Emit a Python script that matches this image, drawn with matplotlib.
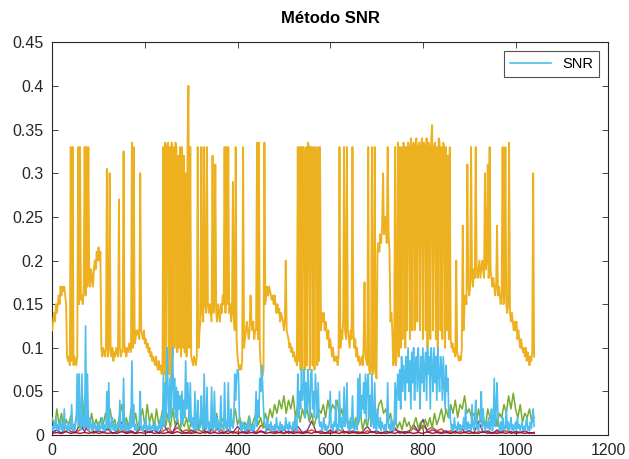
import numpy as np
import matplotlib
matplotlib.use("Agg")
import matplotlib.pyplot as plt

plt.rcParams['font.family'] = ['Liberation Sans', 'DejaVu Sans']

# --- data ---
step_yc = 2       # sample spacing of the yellow & cyan series
step_green = 5    # sample spacing of the green series
step_small = 10   # sample spacing of the small series

yellow_vals = [
    0.12, 0.13, 0.14, 0.13, 0.15, 0.14, 0.15, 0.16, 0.15, 0.17,
    0.16, 0.17, 0.165, 0.17, 0.16, 0.15, 0.09, 0.085, 0.09, 0.08,
    0.33, 0.085, 0.33, 0.08, 0.09, 0.085, 0.08, 0.09, 0.33, 0.15,
    0.33, 0.155, 0.16, 0.15, 0.17, 0.33, 0.16, 0.33, 0.17, 0.33,
    0.18, 0.17, 0.19, 0.18, 0.17, 0.19, 0.20, 0.19, 0.21, 0.20,
    0.215, 0.20, 0.21, 0.10, 0.09, 0.10, 0.095, 0.09, 0.10, 0.305,
    0.09, 0.10, 0.30, 0.095, 0.09, 0.10, 0.085, 0.095, 0.09, 0.10,
    0.095, 0.09, 0.27, 0.10, 0.09, 0.095, 0.10, 0.325, 0.095, 0.10,
    0.09, 0.10, 0.095, 0.105, 0.10, 0.095, 0.335, 0.10, 0.33, 0.105,
    0.11, 0.12, 0.115, 0.12, 0.11, 0.30, 0.12, 0.115, 0.11, 0.12,
    0.105, 0.11, 0.10, 0.105, 0.095, 0.10, 0.09, 0.095, 0.085, 0.09,
    0.085, 0.08, 0.09, 0.08, 0.075, 0.085, 0.075, 0.08, 0.07, 0.075,
    0.33, 0.07, 0.335, 0.06, 0.33, 0.335, 0.07, 0.33, 0.065, 0.335,
    0.09, 0.33, 0.10, 0.335, 0.33, 0.095, 0.32, 0.10, 0.33, 0.09,
    0.33, 0.10, 0.32, 0.095, 0.30, 0.09, 0.33, 0.40, 0.10, 0.33,
    0.09, 0.085, 0.08, 0.09, 0.085, 0.08, 0.09, 0.33, 0.10, 0.12,
    0.13, 0.33, 0.14, 0.13, 0.33, 0.15, 0.14, 0.33, 0.15, 0.14,
    0.15, 0.14, 0.13, 0.32, 0.14, 0.15, 0.31, 0.14, 0.13, 0.15,
    0.14, 0.13, 0.15, 0.14, 0.16, 0.15, 0.33, 0.14, 0.33, 0.15,
    0.33, 0.14, 0.15, 0.13, 0.14, 0.29, 0.13, 0.12, 0.33, 0.11,
    0.09, 0.08, 0.075, 0.08, 0.075, 0.085, 0.33, 0.10, 0.11, 0.12,
    0.13, 0.12, 0.11, 0.12, 0.16, 0.13, 0.12, 0.13, 0.11, 0.12,
    0.12, 0.335, 0.11, 0.335, 0.10, 0.08, 0.07, 0.068, 0.075, 0.335,
    0.15, 0.16, 0.17, 0.16, 0.17, 0.165, 0.16, 0.155, 0.16, 0.15,
    0.16, 0.15, 0.14, 0.15, 0.14, 0.145, 0.13, 0.14, 0.135, 0.13,
    0.12, 0.13, 0.20, 0.12, 0.115, 0.11, 0.10, 0.105, 0.095, 0.10,
    0.09, 0.095, 0.085, 0.09, 0.08, 0.33, 0.085, 0.33, 0.075, 0.33,
    0.075, 0.33, 0.32, 0.075, 0.33, 0.08, 0.335, 0.33, 0.075, 0.33,
    0.33, 0.08, 0.33, 0.075, 0.33, 0.32, 0.08, 0.33, 0.085, 0.33,
    0.12, 0.14, 0.13, 0.14, 0.12, 0.13, 0.12, 0.11, 0.12, 0.10,
    0.11, 0.10, 0.09, 0.10, 0.085, 0.09, 0.085, 0.09, 0.08, 0.09,
    0.33, 0.10, 0.12, 0.11, 0.13, 0.33, 0.12, 0.11, 0.33, 0.12,
    0.11, 0.10, 0.12, 0.11, 0.33, 0.12, 0.10, 0.11, 0.09, 0.10,
    0.085, 0.09, 0.08, 0.085, 0.09, 0.08, 0.10, 0.175, 0.09, 0.085,
    0.08, 0.33, 0.075, 0.07, 0.075, 0.33, 0.07, 0.075, 0.33, 0.07,
    0.065, 0.21, 0.22, 0.21, 0.23, 0.22, 0.24, 0.30, 0.23, 0.25,
    0.24, 0.22, 0.33, 0.23, 0.21, 0.13, 0.14, 0.12, 0.08, 0.085,
    0.33, 0.08, 0.10, 0.335, 0.09, 0.33, 0.10, 0.33, 0.11, 0.335,
    0.33, 0.10, 0.33, 0.12, 0.335, 0.33, 0.11, 0.34, 0.12, 0.33,
    0.335, 0.12, 0.33, 0.34, 0.13, 0.33, 0.335, 0.12, 0.33, 0.34,
    0.11, 0.335, 0.33, 0.12, 0.34, 0.10, 0.335, 0.33, 0.11, 0.34,
    0.355, 0.12, 0.33, 0.335, 0.11, 0.33, 0.10, 0.34, 0.335, 0.12,
    0.33, 0.11, 0.335, 0.33, 0.10, 0.33, 0.12, 0.32, 0.11, 0.33,
    0.11, 0.10, 0.105, 0.095, 0.10, 0.09, 0.20, 0.095, 0.09, 0.085,
    0.09, 0.086, 0.10, 0.24, 0.12, 0.15, 0.16, 0.15, 0.31, 0.17,
    0.16, 0.17, 0.33, 0.18, 0.17, 0.19, 0.18, 0.33, 0.19, 0.18,
    0.19, 0.20, 0.18, 0.19, 0.20, 0.19, 0.18, 0.30, 0.19, 0.20,
    0.31, 0.18, 0.33, 0.19, 0.18, 0.17, 0.18, 0.17, 0.16, 0.17,
    0.24, 0.16, 0.17, 0.16, 0.15, 0.16, 0.33, 0.15, 0.16, 0.33,
    0.15, 0.14, 0.15, 0.335, 0.14, 0.13, 0.14, 0.13, 0.12, 0.13,
    0.12, 0.13, 0.11, 0.12, 0.11, 0.10, 0.11, 0.10, 0.095, 0.10,
    0.09, 0.10, 0.085, 0.095, 0.09, 0.08, 0.09, 0.085, 0.095, 0.30,
    0.09,
]

cyan_vals = [
    0.01, 0.005, 0.015, 0.008, 0.02, 0.006, 0.012, 0.005, 0.01, 0.018,
    0.006, 0.012, 0.005, 0.03, 0.008, 0.01, 0.005, 0.015, 0.006, 0.01,
    0.008, 0.035, 0.006, 0.012, 0.005, 0.01, 0.02, 0.07, 0.01, 0.07,
    0.015, 0.006, 0.07, 0.01, 0.02, 0.008, 0.125, 0.01, 0.07, 0.012,
    0.005, 0.02, 0.01, 0.006, 0.015, 0.008, 0.012, 0.005, 0.01, 0.006,
    0.015, 0.005, 0.01, 0.008, 0.02, 0.006, 0.012, 0.005, 0.01, 0.05,
    0.008, 0.06, 0.01, 0.005, 0.015, 0.02, 0.006, 0.012, 0.005, 0.01,
    0.006, 0.015, 0.008, 0.04, 0.005, 0.012, 0.006, 0.065, 0.01, 0.005,
    0.015, 0.006, 0.01, 0.005, 0.02, 0.008, 0.085, 0.01, 0.035, 0.006,
    0.012, 0.005, 0.01, 0.008, 0.015, 0.05, 0.006, 0.01, 0.005, 0.012,
    0.008, 0.02, 0.005, 0.01, 0.006, 0.015, 0.005, 0.01, 0.008, 0.012,
    0.005, 0.015, 0.006, 0.01, 0.005, 0.012, 0.008, 0.02, 0.006, 0.01,
    0.07, 0.01, 0.06, 0.02, 0.10, 0.05, 0.015, 0.065, 0.02, 0.06,
    0.10, 0.03, 0.065, 0.02, 0.055, 0.015, 0.05, 0.03, 0.045, 0.01,
    0.05, 0.015, 0.04, 0.02, 0.085, 0.03, 0.06, 0.04, 0.015, 0.06,
    0.015, 0.01, 0.02, 0.006, 0.05, 0.01, 0.005, 0.04, 0.015, 0.008,
    0.02, 0.045, 0.01, 0.005, 0.07, 0.012, 0.006, 0.055, 0.01, 0.005,
    0.015, 0.008, 0.055, 0.01, 0.005, 0.05, 0.012, 0.006, 0.02, 0.01,
    0.005, 0.015, 0.045, 0.008, 0.012, 0.005, 0.06, 0.01, 0.015, 0.006,
    0.06, 0.01, 0.005, 0.03, 0.012, 0.008, 0.015, 0.07, 0.04, 0.065,
    0.075, 0.07, 0.02, 0.01, 0.005, 0.015, 0.008, 0.012, 0.005, 0.01,
    0.006, 0.015, 0.008, 0.02, 0.005, 0.01, 0.006, 0.012, 0.005, 0.015,
    0.05, 0.01, 0.04, 0.02, 0.065, 0.05, 0.08, 0.06, 0.03, 0.015,
    0.01, 0.005, 0.02, 0.008, 0.012, 0.005, 0.015, 0.006, 0.01, 0.005,
    0.012, 0.006, 0.02, 0.008, 0.01, 0.005, 0.015, 0.006, 0.012, 0.005,
    0.01, 0.006, 0.02, 0.008, 0.012, 0.005, 0.015, 0.008, 0.01, 0.005,
    0.015, 0.006, 0.02, 0.01, 0.005, 0.07, 0.02, 0.05, 0.03, 0.075,
    0.04, 0.05, 0.075, 0.02, 0.06, 0.03, 0.075, 0.04, 0.02, 0.07,
    0.075, 0.03, 0.05, 0.02, 0.07, 0.045, 0.02, 0.06, 0.015, 0.01,
    0.015, 0.005, 0.01, 0.02, 0.006, 0.012, 0.005, 0.01, 0.008, 0.015,
    0.05, 0.008, 0.012, 0.005, 0.015, 0.01, 0.04, 0.006, 0.012, 0.005,
    0.05, 0.01, 0.02, 0.006, 0.012, 0.055, 0.01, 0.015, 0.06, 0.008,
    0.012, 0.005, 0.02, 0.008, 0.045, 0.012, 0.005, 0.01, 0.015, 0.006,
    0.065, 0.015, 0.07, 0.02, 0.045, 0.03, 0.06, 0.025, 0.07, 0.015,
    0.06, 0.07, 0.02, 0.045, 0.01, 0.07, 0.015, 0.008, 0.06, 0.01,
    0.005, 0.03, 0.012, 0.008, 0.02, 0.005, 0.015, 0.01, 0.006, 0.012,
    0.005, 0.015, 0.06, 0.008, 0.012, 0.005, 0.02, 0.006, 0.01, 0.005,
    0.06, 0.012, 0.05, 0.07, 0.04, 0.075, 0.03, 0.09, 0.05, 0.08,
    0.07, 0.04, 0.09, 0.06, 0.10, 0.05, 0.085, 0.03, 0.095, 0.06,
    0.10, 0.04, 0.08, 0.09, 0.05, 0.10, 0.07, 0.03, 0.09, 0.06,
    0.10, 0.05, 0.08, 0.095, 0.04, 0.10, 0.07, 0.09, 0.03, 0.10,
    0.08, 0.05, 0.10, 0.06, 0.09, 0.04, 0.10, 0.07, 0.05, 0.09,
    0.08, 0.04, 0.09, 0.06, 0.03, 0.08, 0.05, 0.065, 0.02, 0.03,
    0.015, 0.006, 0.012, 0.005, 0.02, 0.008, 0.01, 0.005, 0.015, 0.006,
    0.012, 0.005, 0.01, 0.008, 0.02, 0.006, 0.03, 0.01, 0.005, 0.015,
    0.008, 0.012, 0.005, 0.035, 0.01, 0.006, 0.02, 0.04, 0.008, 0.012,
    0.005, 0.015, 0.02, 0.05, 0.008, 0.03, 0.012, 0.005, 0.01, 0.015,
    0.008, 0.02, 0.006, 0.012, 0.03, 0.005, 0.015, 0.065, 0.01, 0.03,
    0.06, 0.02, 0.01, 0.005, 0.015, 0.006, 0.02, 0.01, 0.005, 0.012,
    0.03, 0.008, 0.015, 0.005, 0.01, 0.02, 0.006, 0.012, 0.005, 0.01,
    0.015, 0.006, 0.02, 0.008, 0.012, 0.005, 0.01, 0.015, 0.006, 0.01,
    0.005, 0.012, 0.02, 0.006, 0.01, 0.005, 0.015, 0.008, 0.02, 0.03,
    0.01,
]

green_vals = [
    0.02, 0.008, 0.03, 0.012, 0.025, 0.006, 0.018, 0.01, 0.022, 0.005,
    0.015, 0.03, 0.008, 0.045, 0.012, 0.02, 0.006, 0.025, 0.01, 0.018,
    0.006, 0.02, 0.012, 0.025, 0.008, 0.03, 0.01, 0.018, 0.005, 0.022,
    0.035, 0.01, 0.02, 0.008, 0.03, 0.012, 0.025, 0.006, 0.02, 0.03,
    0.01, 0.035, 0.015, 0.025, 0.008, 0.03, 0.012, 0.02, 0.035, 0.01,
    0.025, 0.008, 0.03, 0.012, 0.02, 0.006, 0.015, 0.01, 0.02, 0.005,
    0.015, 0.008, 0.02, 0.005, 0.012, 0.025, 0.008, 0.018, 0.006, 0.02,
    0.01, 0.025, 0.006, 0.015, 0.02, 0.008, 0.022, 0.01, 0.015, 0.03,
    0.012, 0.02, 0.006, 0.015, 0.01, 0.022, 0.008, 0.018, 0.025, 0.012,
    0.02, 0.008, 0.025, 0.015, 0.03, 0.02, 0.035, 0.025, 0.04, 0.03,
    0.045, 0.025, 0.04, 0.03, 0.045, 0.02, 0.035, 0.015, 0.03, 0.02,
    0.03, 0.015, 0.025, 0.01, 0.02, 0.03, 0.025, 0.035, 0.02, 0.04,
    0.025, 0.035, 0.03, 0.04, 0.02, 0.03, 0.015, 0.025, 0.01, 0.02,
    0.008, 0.02, 0.012, 0.025, 0.006, 0.018, 0.01, 0.025, 0.015, 0.03,
    0.02, 0.035, 0.04, 0.025, 0.03, 0.015, 0.025, 0.01, 0.02, 0.008,
    0.015, 0.006, 0.02, 0.01, 0.015, 0.005, 0.012, 0.02, 0.008, 0.015,
    0.006, 0.018, 0.01, 0.02, 0.008, 0.025, 0.012, 0.02, 0.03, 0.015,
    0.03, 0.02, 0.035, 0.025, 0.04, 0.02, 0.035, 0.03, 0.045, 0.025,
    0.03, 0.02, 0.025, 0.012, 0.03, 0.015, 0.02, 0.01, 0.03, 0.02,
    0.015, 0.03, 0.01, 0.025, 0.02, 0.035, 0.025, 0.045, 0.03, 0.048,
    0.03, 0.02, 0.035, 0.015, 0.025, 0.02, 0.03, 0.015, 0.02,
]

red_vals = [
    0.003, 0.006, 0.002, 0.005, 0.008, 0.003, 0.006, 0.01, 0.004, 0.002,
    0.005, 0.003, 0.007, 0.002, 0.004, 0.006, 0.003, 0.005, 0.002, 0.007,
    0.004, 0.003, 0.006, 0.002, 0.005, 0.008, 0.003, 0.009, 0.004, 0.006,
    0.003, 0.007, 0.005, 0.002, 0.006, 0.004, 0.008, 0.003, 0.005, 0.002,
    0.004, 0.003, 0.005, 0.007, 0.003, 0.011, 0.009, 0.005, 0.003, 0.006,
    0.002, 0.004, 0.003, 0.005, 0.002, 0.004, 0.006, 0.003, 0.005, 0.002,
    0.004, 0.003, 0.006, 0.002, 0.005, 0.003, 0.004, 0.002, 0.005, 0.003,
    0.004, 0.002, 0.005, 0.003, 0.006, 0.004, 0.003, 0.005, 0.008, 0.004,
    0.011, 0.006, 0.009, 0.005, 0.007, 0.003, 0.005, 0.002, 0.004, 0.003,
    0.005, 0.002, 0.004, 0.003, 0.005, 0.002, 0.004, 0.003, 0.005, 0.002,
    0.004, 0.003, 0.005, 0.002, 0.003,
]

purple_vals = [
    0.003, 0.006, 0.002, 0.01, 0.004, 0.003, 0.012, 0.004, 0.016, 0.003,
    0.005, 0.003, 0.008, 0.002, 0.004, 0.015, 0.003, 0.005, 0.002, 0.01,
    0.004, 0.003, 0.006, 0.002, 0.012, 0.004, 0.003, 0.015, 0.004, 0.002,
    0.006, 0.003, 0.018, 0.004, 0.003, 0.02, 0.004, 0.002, 0.006, 0.003,
    0.01, 0.004, 0.003, 0.006, 0.002, 0.005, 0.003, 0.012, 0.004, 0.003,
    0.006, 0.002, 0.004, 0.01, 0.003, 0.005, 0.016, 0.003, 0.004, 0.002,
    0.006, 0.003, 0.012, 0.004, 0.003, 0.005, 0.002, 0.004, 0.01, 0.003,
    0.005, 0.002, 0.004, 0.003, 0.008, 0.002, 0.004, 0.003, 0.012, 0.004,
    0.018, 0.003, 0.006, 0.004, 0.003, 0.005, 0.002, 0.004, 0.012, 0.003,
    0.005, 0.002, 0.016, 0.003, 0.004, 0.002, 0.006, 0.003, 0.01, 0.002,
    0.004, 0.003, 0.005, 0.002, 0.003,
]

darkred_vals = [
    0.002, 0.003, 0.002, 0.004, 0.002, 0.003, 0.002, 0.003, 0.002, 0.004,
    0.002, 0.003, 0.002, 0.003, 0.002, 0.004, 0.002, 0.003, 0.002, 0.003,
    0.002, 0.004, 0.002, 0.003, 0.002, 0.003, 0.002, 0.004, 0.002, 0.003,
    0.002, 0.003, 0.002, 0.004, 0.002, 0.003, 0.002, 0.003, 0.002, 0.004,
    0.002, 0.003, 0.002, 0.003, 0.002, 0.004, 0.002, 0.003, 0.002, 0.003,
    0.002, 0.004, 0.002, 0.003, 0.002, 0.003, 0.002, 0.004, 0.002, 0.003,
    0.002, 0.003, 0.002, 0.004, 0.002, 0.003, 0.002, 0.003, 0.002, 0.004,
    0.002, 0.003, 0.002, 0.003, 0.002, 0.004, 0.002, 0.003, 0.002, 0.003,
    0.002, 0.004, 0.002, 0.003, 0.002, 0.003, 0.002, 0.004, 0.002, 0.003,
    0.002, 0.003, 0.002, 0.004, 0.002, 0.003, 0.002, 0.003, 0.002, 0.004,
    0.002, 0.003, 0.002, 0.003, 0.002,
]

xticks = [0, 200, 400, 600, 800, 1000, 1200]
yticks = [0, 0.05, 0.1, 0.15, 0.2, 0.25, 0.3, 0.35, 0.4, 0.45]
ytick_labels = ['0', '0.05', '0.1', '0.15', '0.2', '0.25', '0.3', '0.35', '0.4', '0.45']

# --- figure ---
fig = plt.figure(figsize=(6.29, 4.59), dpi=100)
ax = fig.add_axes([0.083, 0.052, 0.884, 0.856])

x_y = np.arange(len(yellow_vals)) * step_yc
x_c = np.arange(len(cyan_vals)) * step_yc
x_g = np.arange(len(green_vals)) * step_green
x_r = np.arange(len(red_vals)) * step_small
x_p = np.arange(len(purple_vals)) * step_small
x_d = np.arange(len(darkred_vals)) * step_small

ax.plot(x_r, red_vals, color='#D95319', lw=1.1, zorder=2)
ax.plot(x_y, yellow_vals, color='#EDB120', lw=1.35, zorder=3)
ax.plot(x_p, purple_vals, color='#7E2F8E', lw=1.0, zorder=4)
ax.plot(x_g, green_vals, color='#77AC30', lw=1.1, zorder=5)
ax.plot(x_c, cyan_vals, color='#4DBEEE', lw=1.2, zorder=6, label='SNR')
ax.plot(x_d, darkred_vals, color='#A2142F', lw=1.0, zorder=7)

ax.set_xlim(0, 1200)
ax.set_ylim(0, 0.45)
ax.set_xticks(xticks)
ax.set_xticklabels([str(v) for v in xticks])
ax.set_yticks(yticks)
ax.set_yticklabels(ytick_labels)
ax.tick_params(direction='in', length=4, width=0.6, colors='#262626',
               labelsize=11.5, top=True, right=True, pad=6)
for s in ax.spines.values():
    s.set_color('#262626')
    s.set_linewidth(0.8)

ax.set_title('Método SNR', fontsize=12, fontweight='bold', pad=14)

leg = ax.legend(loc='upper right', frameon=True, fancybox=False,
                edgecolor='#262626', fontsize=10.5, borderaxespad=0.6,
                handlelength=2.8, borderpad=0.4)
leg.get_frame().set_linewidth(0.8)

fig.savefig('out.png', dpi=100, facecolor='white')
